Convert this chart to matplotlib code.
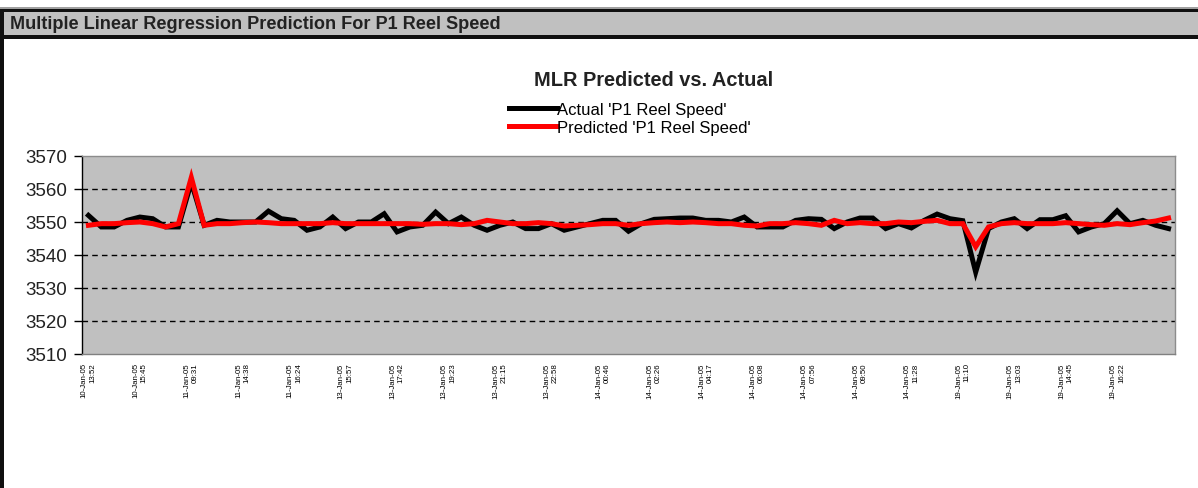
import matplotlib
matplotlib.use("Agg")
import matplotlib.pyplot as plt
from matplotlib.patches import Rectangle

# Sample timestamps shown on the category axis (every 4th sample)
tick_labels = [
    "10-Jan-05\n13:52", "10-Jan-05\n15:45", "11-Jan-05\n09:31", "11-Jan-05\n14:38",
    "11-Jan-05\n16:24", "13-Jan-05\n15:57", "13-Jan-05\n17:42", "13-Jan-05\n19:23",
    "13-Jan-05\n21:15", "13-Jan-05\n22:58", "14-Jan-05\n00:46", "14-Jan-05\n02:26",
    "14-Jan-05\n04:17", "14-Jan-05\n06:08", "14-Jan-05\n07:56", "14-Jan-05\n09:50",
    "14-Jan-05\n11:28", "19-Jan-05\n11:10", "19-Jan-05\n13:03", "19-Jan-05\n14:45",
    "19-Jan-05\n16:22",
]
tick_step = 4

actual = [
    3552.0, 3548.5, 3548.5, 3550.5, 3551.5, 3551.0, 3548.5, 3548.5, 3562.0, 3549.0,
    3550.5, 3550.0, 3550.0, 3550.0, 3553.3, 3551.0, 3550.5, 3547.5, 3548.5, 3551.5,
    3548.0, 3550.0, 3550.0, 3552.5, 3547.0, 3548.5, 3549.0, 3553.0, 3549.5, 3551.5,
    3549.0, 3547.5, 3549.0, 3550.0, 3548.0, 3548.0, 3549.5, 3547.5, 3548.5, 3549.5,
    3550.5, 3550.5, 3547.2, 3549.5, 3550.8, 3551.0, 3551.2, 3551.2, 3550.5, 3550.5,
    3550.0, 3551.5, 3548.5, 3548.5, 3548.5, 3550.5, 3551.0, 3550.8, 3548.0, 3550.0,
    3551.2, 3551.2, 3548.0, 3549.5, 3548.2, 3550.5, 3552.4, 3551.0, 3550.4, 3534.8,
    3548.0, 3550.0, 3551.0, 3548.0, 3550.7, 3550.7, 3551.9, 3547.0, 3548.5, 3549.5,
    3553.4, 3549.5, 3550.5, 3549.0, 3548.0,
]

predicted = [
    3549.0, 3549.5, 3549.5, 3549.8, 3550.0, 3549.5, 3548.5, 3549.5, 3563.5, 3549.0,
    3549.5, 3549.5, 3549.8, 3550.0, 3549.8, 3549.5, 3549.5, 3549.5, 3549.5, 3549.8,
    3549.5, 3549.5, 3549.5, 3549.5, 3549.5, 3549.5, 3549.3, 3549.5, 3549.5, 3549.2,
    3549.5, 3550.5, 3550.0, 3549.5, 3549.5, 3549.8, 3549.5, 3548.8, 3549.0, 3549.2,
    3549.5, 3549.5, 3549.0, 3549.5, 3549.8, 3550.0, 3549.8, 3550.0, 3549.8, 3549.5,
    3549.5, 3549.0, 3548.8, 3549.5, 3549.5, 3549.8, 3549.5, 3549.0, 3550.5, 3549.5,
    3549.8, 3549.5, 3549.5, 3550.0, 3549.8, 3550.2, 3550.5, 3549.5, 3549.5, 3542.5,
    3548.5, 3549.5, 3549.8, 3549.5, 3549.5, 3549.5, 3549.8, 3549.5, 3549.2, 3549.0,
    3549.5, 3549.2, 3549.8, 3550.3, 3551.2,
]

y_ticks = [3510, 3520, 3530, 3540, 3550, 3560, 3570]

SANS = ["Liberation Sans", "DejaVu Sans"]

W, H = 1198, 489
fig = plt.figure(figsize=(W / 100, H / 100), dpi=100)
fig.patch.set_facecolor("white")

def px_rect(x0, y0, x1, y1, color):
    fig.add_artist(Rectangle((x0 / W, 1 - y1 / H), (x1 - x0) / W, (y1 - y0) / H,
                             transform=fig.transFigure, facecolor=color,
                             edgecolor="none", zorder=0))

# Worksheet-style header bar and frame
px_rect(0, 8, W, 9.5, "#a0a0a0")
px_rect(0, 9.5, W, 12.5, "#101010")
px_rect(0, 12.5, W, 36, "#c0c0c0")
px_rect(0, 36, W, 39.5, "#101010")
px_rect(0, 9.5, 4, H, "#101010")

fig.text(10 / W, 1 - 24.5 / H, "Multiple Linear Regression Prediction For P1 Reel Speed",
         fontsize=13.1, fontweight="bold", family=SANS,
         color="#222222", ha="left", va="center")

fig.text(654 / W, 1 - 80 / H, "MLR Predicted vs. Actual", fontsize=14.4,
         fontweight="bold", family=SANS,
         color="#222222", ha="center", va="center")

ax = fig.add_axes([82 / W, 1 - 355 / H, (1175 - 82) / W, (355 - 157) / H])
ax.set_facecolor("#c0c0c0")

x = list(range(len(actual)))
line_a, = ax.plot(x, actual, color="black", lw=3.6, solid_joinstyle="miter", zorder=3)
line_p, = ax.plot(x, predicted, color="#ff0000", lw=3.6, solid_joinstyle="miter", zorder=4)

ax.set_xlim(-0.5, len(actual) - 0.5)
ax.set_ylim(y_ticks[0], y_ticks[-1])
ax.set_yticks(y_ticks)
ax.set_yticklabels([str(v) for v in y_ticks], fontsize=13.5, family=SANS,
                   color="#222222")
ax.tick_params(axis="y", length=6, width=1, pad=5, color="black")

ax.set_xticks(list(range(0, tick_step * len(tick_labels), tick_step)))
ax.set_xticklabels(tick_labels, rotation=90, ha="center", va="top",
                   multialignment="right", fontsize=5.7,
                   family=["Liberation Sans Narrow"] + SANS,
                   linespacing=1.3, color="black")
ax.tick_params(axis="x", length=0, pad=6)

for v in y_ticks[1:-1]:
    ax.axhline(v, color="black", lw=1, ls=(0, (4, 3)), zorder=2)

for side in ("top", "right"):
    ax.spines[side].set_color("#8c8c8c")
    ax.spines[side].set_linewidth(1)
ax.spines["left"].set_color("black")
ax.spines["left"].set_linewidth(1)
ax.spines["bottom"].set_color("#808080")
ax.spines["bottom"].set_linewidth(1)

fig.legend([line_a, line_p], ["Actual 'P1 Reel Speed'", "Predicted 'P1 Reel Speed'"],
           loc="upper left", bbox_to_anchor=(509 / W, 1 - 103 / H),
           frameon=False, handlelength=2.9, handletextpad=0.0,
           labelspacing=0.17, borderpad=0, borderaxespad=0,
           prop={"family": SANS, "size": 12})

fig.savefig("out.png", dpi=100)
